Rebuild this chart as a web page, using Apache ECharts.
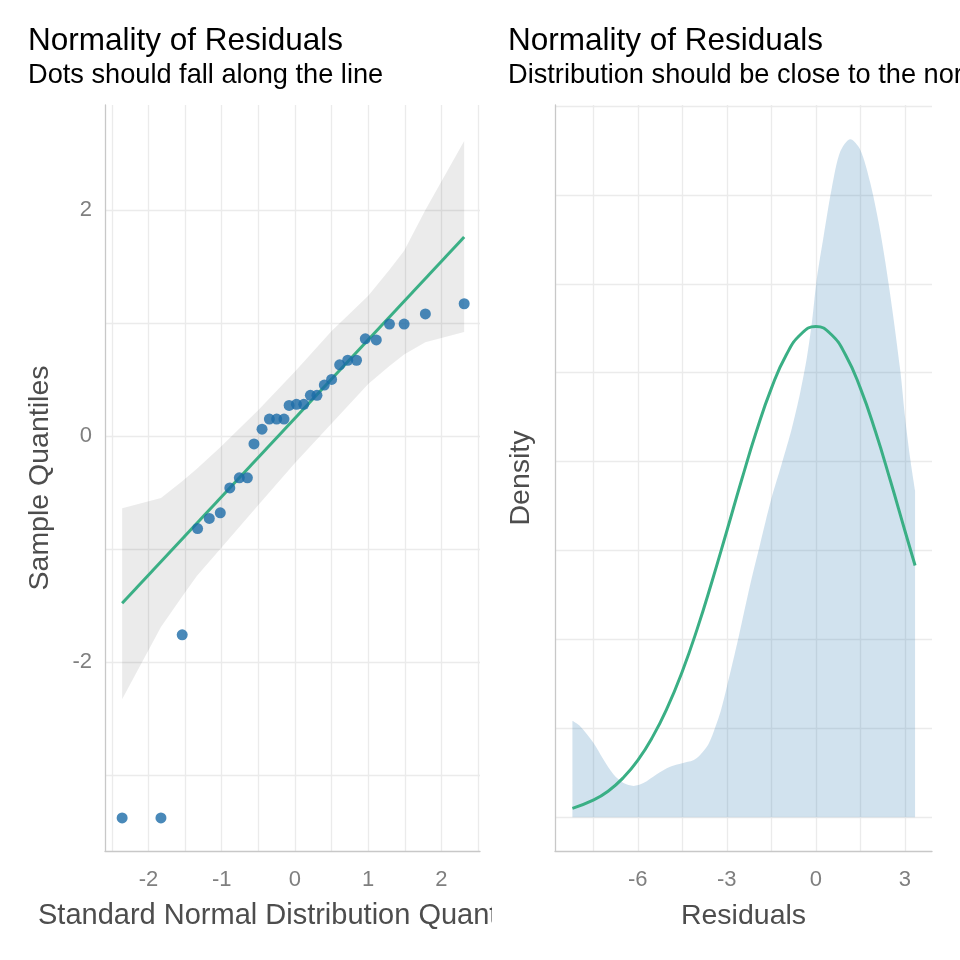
<!DOCTYPE html>
<html><head><meta charset="utf-8">
<script src="https://cdn.jsdelivr.net/npm/echarts@6/dist/echarts.min.js"></script>
<style>html,body{margin:0;padding:0;background:#fff}#c{width:960px;height:960px}</style>
</head><body><div id="c"></div>
<script>
// ---- Left panel: QQ plot ----
const qqX = [-2.36, -1.83, -1.54, -1.33, -1.17, -1.02, -0.89, -0.76, -0.65, -0.56, -0.45, -0.35, -0.25, -0.15, -0.08, 0.02, 0.12, 0.21, 0.30, 0.40, 0.50, 0.61, 0.72, 0.84, 0.96, 1.11, 1.29, 1.49, 1.78, 2.31];
const qqY = [-3.38, -3.38, -1.76, -0.82, -0.73, -0.68, -0.46, -0.37, -0.37, -0.07, 0.06, 0.15, 0.15, 0.15, 0.27, 0.28, 0.28, 0.36, 0.36, 0.45, 0.50, 0.63, 0.67, 0.67, 0.86, 0.85, 0.99, 0.99, 1.08, 1.17];
const qqLineX = [-2.36, 2.31];
const qqLineY = [-1.48, 1.76];
const bandX  = [-2.36, -1.83, -1.54, -1.34, -1.02, -0.5, 0, 0.5, 1.0, 1.29, 1.49, 1.78, 2.31];
const bandLo = [-2.33, -1.69, -1.42, -1.24, -1.00, -0.61, -0.24, 0.11, 0.46, 0.62, 0.72, 0.83, 0.92];
const bandHi = [-0.64, -0.55, -0.40, -0.29, -0.10, 0.23, 0.57, 0.93, 1.24, 1.47, 1.64, 2.00, 2.61];
const qqXTicks = [-2, -1, 0, 1, 2];
const qqXGrid = [-2.5, -2, -1.5, -1, -0.5, 0, 0.5, 1, 1.5, 2, 2.5];
const qqYTicks = [-2, 0, 2];
const qqYGrid = [-3, -2, -1, 0, 1, 2];

// ---- Right panel: density of residuals ----
const densX = [-8.20, -7.94, -7.50, -7.16, -6.82, -6.48, -6.14, -5.81, -5.36, -4.91, -4.50, -4.13, -3.90, -3.62, -3.39, -3.20, -3.00, -2.61, -2.21, -1.88, -1.51, -1.15, -0.81, -0.53, -0.30, -0.13, 0.03, 0.26, 0.54, 0.82, 1.16, 1.49, 1.83, 2.17, 2.50, 2.84, 3.01, 3.18, 3.34];
const densY = [0.0271, 0.0256, 0.0210, 0.0163, 0.0121, 0.0096, 0.0088, 0.0096, 0.0121, 0.0142, 0.0152, 0.0160, 0.0175, 0.0205, 0.0253, 0.0300, 0.0366, 0.0504, 0.0655, 0.0768, 0.0893, 0.0994, 0.1094, 0.1194, 0.1295, 0.1395, 0.1514, 0.1634, 0.1772, 0.1872, 0.1907, 0.1878, 0.1784, 0.1646, 0.1471, 0.1257, 0.1119, 0.1006, 0.0919];
const normX = [-8.2, -7.5, -7, -6.5, -6, -5.5, -5, -4.5, -4, -3.5, -3, -2.5, -2, -1.5, -1, -0.5, 0, 0.5, 1, 1.5, 2, 2.5, 3, 3.34];
const normY = [0.0025, 0.0048, 0.0073, 0.0110, 0.0160, 0.0226, 0.0309, 0.0410, 0.0529, 0.0663, 0.0805, 0.0949, 0.1086, 0.1206, 0.1300, 0.1359, 0.1380, 0.1359, 0.1300, 0.1206, 0.1086, 0.0949, 0.0805, 0.0708];
const resXTicks = [-6, -3, 0, 3];
const resXGrid = [-7.5, -6, -4.5, -3, -1.5, 0, 1.5, 3];
const densYGrid = [0, 0.025, 0.05, 0.075, 0.1, 0.125, 0.15, 0.175, 0.2];

const FONT = '"Liberation Sans", Arial, sans-serif';
const GREEN = '#3aaf85';
const BLUE = '#1b6ca8';
const pair = (xs, ys) => xs.map((x, i) => [x, ys[i]]);

const axisLineStyle = { show: true, onZero: false, lineStyle: { color: '#c8c8c8', width: 1.3 } };
const splitStyle = { show: true, lineStyle: { color: '#ebebeb', width: 1.3 } };
const tickLabel = { color: '#7f7f7f', fontSize: 22, fontFamily: FONT };
const nameStyle = { color: '#4d4d4d', fontSize: 28.5, fontFamily: FONT };

const chart = echarts.init(document.getElementById('c'));
chart.setOption({
  animation: false,
  backgroundColor: '#ffffff',
  grid: [
    { left: 105, top: 105, width: 375, height: 746 },
    { left: 555, top: 105, width: 377, height: 746 }
  ],
  xAxis: [
    { gridIndex: 0, type: 'value', min: -2.594, max: 2.526,
      axisLine: axisLineStyle,
      axisTick: { show: false, customValues: qqXGrid },
      axisLabel: Object.assign({ customValues: qqXTicks, margin: 18 }, tickLabel),
      splitLine: splitStyle },
    { gridIndex: 1, type: 'value', min: -8.787, max: 3.91,
      name: 'Residuals', nameLocation: 'middle', nameGap: 51, nameTextStyle: nameStyle,
      axisLine: axisLineStyle,
      axisTick: { show: false, customValues: resXGrid },
      axisLabel: Object.assign({ customValues: resXTicks, margin: 18 }, tickLabel),
      splitLine: splitStyle }
  ],
  yAxis: [
    { gridIndex: 0, type: 'value', min: -3.673, max: 2.929,
      name: 'Sample Quantiles', nameLocation: 'middle', nameGap: 50, nameTextStyle: nameStyle,
      axisLine: axisLineStyle,
      axisTick: { show: false, customValues: qqYGrid },
      axisLabel: Object.assign({ customValues: qqYTicks, margin: 13 }, tickLabel),
      splitLine: splitStyle },
    { gridIndex: 1, type: 'value', min: -0.0095, max: 0.2003,
      name: 'Density', nameLocation: 'middle', nameGap: 19, nameTextStyle: nameStyle,
      axisLine: axisLineStyle,
      axisTick: { show: false, customValues: densYGrid },
      axisLabel: { show: false },
      splitLine: splitStyle }
  ],
  series: [
    { type: 'custom', xAxisIndex: 0, yAxisIndex: 0, silent: true, z: 1,
      data: bandX.map((x, i) => [x, bandLo[i], bandHi[i]]),
      encode: { x: 0, y: [1, 2] },
      renderItem: function (params, api) {
        if (params.dataIndex !== 0) return null;
        const pts = [];
        for (let i = 0; i < bandX.length; i++) pts.push(api.coord([bandX[i], bandHi[i]]));
        for (let i = bandX.length - 1; i >= 0; i--) pts.push(api.coord([bandX[i], bandLo[i]]));
        return { type: 'polygon', shape: { points: pts }, style: { fill: 'rgba(0,0,0,0.08)' } };
      } },
    { type: 'line', xAxisIndex: 0, yAxisIndex: 0, z: 2, silent: true,
      data: pair(qqLineX, qqLineY), showSymbol: false,
      lineStyle: { color: GREEN, width: 3 } },
    { type: 'scatter', xAxisIndex: 0, yAxisIndex: 0, z: 3, silent: true,
      data: pair(qqX, qqY), symbolSize: 11,
      itemStyle: { color: BLUE, opacity: 0.8 } },
    { type: 'line', xAxisIndex: 1, yAxisIndex: 1, z: 1, silent: true,
      data: pair(densX, densY), showSymbol: false, smooth: 0.3,
      lineStyle: { width: 0, opacity: 0 },
      areaStyle: { color: 'rgba(27,108,168,0.2)', opacity: 1, origin: 0 } },
    { type: 'line', xAxisIndex: 1, yAxisIndex: 1, z: 2, silent: true,
      data: pair(normX, normY), showSymbol: false, smooth: true,
      lineStyle: { color: GREEN, width: 3 } }
  ],
  graphic: [
    { type: 'text', x: 28, y: 41, style: { text: 'Normality of Residuals', font: '31.5px ' + FONT, fill: '#000', textAlign: 'left', textVerticalAlign: 'middle', align: 'left', verticalAlign: 'middle' } },
    { type: 'text', x: 28, y: 76, style: { text: 'Dots should fall along the line', font: '27.2px ' + FONT, fill: '#000', textAlign: 'left', textVerticalAlign: 'middle', align: 'left', verticalAlign: 'middle' } },
    { type: 'text', x: 508, y: 41, style: { text: 'Normality of Residuals', font: '31.5px ' + FONT, fill: '#000', textAlign: 'left', textVerticalAlign: 'middle', align: 'left', verticalAlign: 'middle' } },
    { type: 'text', x: 508, y: 76, style: { text: 'Distribution should be close to the normal curve', font: '27.2px ' + FONT, fill: '#000', textAlign: 'left', textVerticalAlign: 'middle', align: 'left', verticalAlign: 'middle' } },
    { type: 'text', x: 38, y: 916, z: 10, style: { text: 'Standard Normal Distribution Quantiles', font: '29px ' + FONT, fill: '#4d4d4d', textAlign: 'left', textVerticalAlign: 'middle', align: 'left', verticalAlign: 'middle' } },
    { type: 'rect', z: 11, shape: { x: 492, y: 892, width: 60, height: 50 }, style: { fill: '#ffffff' } }
  ]
});
</script>
</body></html>
